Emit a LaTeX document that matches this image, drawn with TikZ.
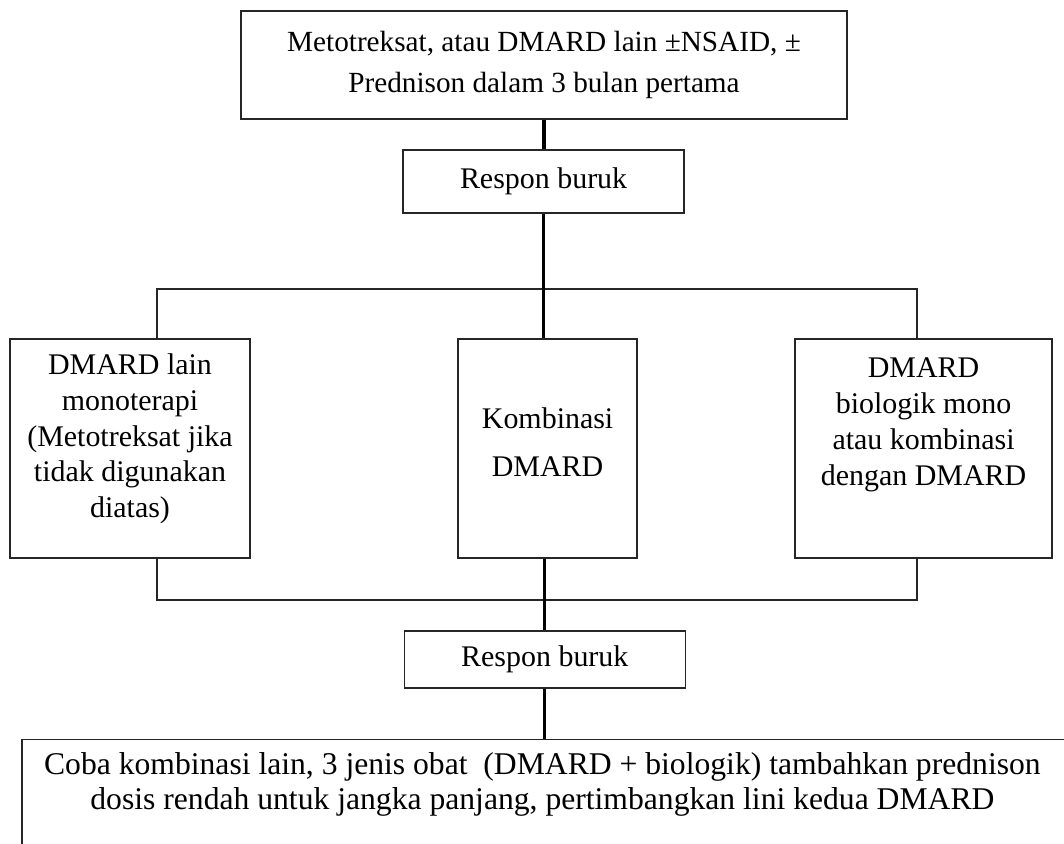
\documentclass[tikz,border=0pt]{standalone}
\usepackage{fontspec}
\setmainfont{Liberation Serif}
\usetikzlibrary{calc,positioning}

\tikzset{
  chartbox/.style={rectangle,draw=black!85,line width=1.0pt,align=center,inner sep=0pt},
  chartfont/.style={font=\fontsize{21.3}{25.6}\selectfont},
  mainline/.style={line width=2.4pt},
  sideline/.style={line width=0.9pt,draw=black!85},
}

\begin{document}
\begin{tikzpicture}[chartfont]

\clip (0,0) rectangle (26.6,-21.1);
\coordinate (ORIGIN) at (0,0);

% first step and first response
\node[chartbox,minimum width=15.15cm,minimum height=2.7cm,font=\fontsize{20.8}{29}\selectfont] at ($(ORIGIN)+(13.6,-1.625)$) (START) {Metotreksat, atau DMARD lain ±NSAID, ±\\Prednison dalam 3 bulan pertama};
\node[chartbox,minimum width=7.025cm,minimum height=1.575cm] at ($(ORIGIN)+(13.59,-4.54)$) (RESPON1) {Respon buruk};

%%%%%%%%%%%%%%%%%%%
% three options
\node[chartbox,minimum width=6cm,minimum height=5.475cm] at ($(ORIGIN)+(3.25,-11.21)$) (MONO) {};
\node[align=center] at ($(MONO)+(0,0.24)$) (MONOTEXT) {DMARD lain\\monoterapi\\(Metotreksat jika\\tidak digunakan\\diatas)};
\node[chartbox,minimum width=4.475cm,minimum height=5.475cm] at ($(ORIGIN)+(13.69,-11.21)$) (KOMBI) {};
\node[align=center] at ($(KOMBI)+(0,0.16)$) (KOMBITEXT) {Kombinasi\\[0.3cm]DMARD};
\node[chartbox,minimum width=6.425cm,minimum height=5.475cm] at ($(ORIGIN)+(23.09,-11.21)$) (BIO) {};
\node[align=center] at ($(BIO)+(0,0.59)$) (BIOTEXT) {DMARD\\biologik mono\\atau kombinasi\\dengan DMARD};

% second response and last step
\node[chartbox,minimum width=7.025cm,minimum height=1.425cm] at ($(ORIGIN)+(13.62,-16.49)$) (RESPON2) {Respon buruk};
\node[chartbox,minimum width=26.18cm,minimum height=3cm,anchor=north] at ($(ORIGIN)+(13.64,-18.475)$) (FINAL) {};
\node[align=center,font=\fontsize{22.5}{24.9}\selectfont] at ($(ORIGIN)+(13.56,-19.6)$) (FINALTEXT) {Coba kombinasi lain, 3 jenis obat~ (DMARD + biologik) tambahkan prednison\\dosis rendah untuk jangka panjang, pertimbangkan lini kedua DMARD};

% draw lines
\coordinate (BRANCHL) at ($(ORIGIN)+(3.925,-7.225)$);
\coordinate (BRANCHR) at ($(ORIGIN)+(22.925,-7.225)$);
\coordinate (JOINL) at ($(ORIGIN)+(3.925,-15.0)$);
\coordinate (JOINR) at ($(ORIGIN)+(22.925,-15.0)$);

\draw[sideline] (BRANCHL |- MONO.north) -- (BRANCHL) -- (BRANCHR) -- (BRANCHR |- BIO.north);
\draw[sideline] (BRANCHL |- MONO.south) -- (JOINL) -- (JOINR) -- (JOINR |- BIO.south);
\draw[mainline] (START.south) -- (START.south |- RESPON1.north);
\draw[mainline] (RESPON1.south) -- (RESPON1.south |- KOMBI.north);
\draw[mainline] (RESPON2.north |- KOMBI.south) -- (RESPON2.north);
\draw[mainline] (RESPON2.south) -- (RESPON2.south |- FINAL.north);

\end{tikzpicture}
\end{document}
